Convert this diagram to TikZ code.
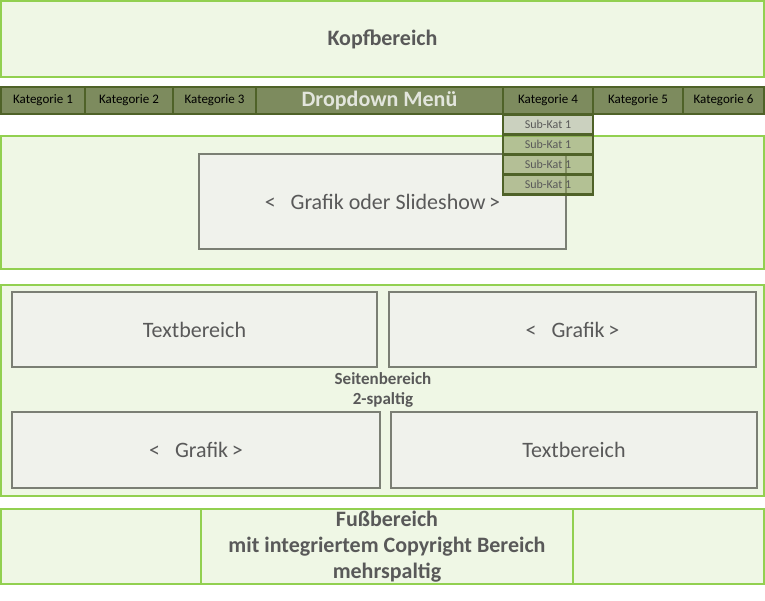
\documentclass[tikz,border=0pt]{standalone}
\usepackage{fontspec}
\setmainfont{Carlito}
\usepackage{xcolor}
\definecolor{hellgruen}{HTML}{EFF7E5}
\definecolor{rahmengruen}{HTML}{92D050}
\definecolor{navfill}{HTML}{7D8B5E}
\definecolor{navrand}{HTML}{4F6228}
\definecolor{subfill}{HTML}{8C9E5E}
\definecolor{graufill}{HTML}{F0F2EC}
\definecolor{graurand}{HTML}{7B7F74}
\definecolor{schrift}{HTML}{595959}

\begin{document}
\begin{tikzpicture}[x=1pt,y=-1pt,
        bereich/.style={draw=rahmengruen,fill=hellgruen,line width=2.5pt,inner sep=0pt,text=schrift},
        navbox/.style={draw=navrand,fill=navfill,line width=2.5pt,inner sep=0pt,minimum height=27pt,font=\fontsize{13}{15}\selectfont},
        subbox/.style={draw=navrand,fill=subfill,fill opacity=0.6,text opacity=1,line width=2.5pt,inner sep=0pt,minimum width=90pt,minimum height=20pt,text=schrift,font=\fontsize{12}{14}\selectfont},
        inhalt/.style={draw=graurand,fill=graufill,line width=2pt,inner sep=0pt,text=schrift,font=\fontsize{22}{26}\selectfont}]
        \useasboundingbox (0,0) rectangle (765,600);
        % Kopf
        \node[bereich,minimum width=763pt,minimum height=76pt,font=\bfseries\fontsize{22}{26}\selectfont](kopf) at (382.5,39) {Kopfbereich};
        % Navigation
        \node[navbox,minimum width=84pt](kat1) at (43,100.5) {Kategorie 1};
        \node[navbox,minimum width=88pt](kat2) at (129,100.5) {Kategorie 2};
        \node[navbox,minimum width=83pt](kat3) at (214.5,100.5) {Kategorie 3};
        \node[navbox,minimum width=247pt,text=white!78!navfill,font=\bfseries\fontsize{22}{26}\selectfont](drop) at (379.5,100.5) {Dropdown Menü};
        \node[navbox,minimum width=90pt](kat4) at (548,100.5) {Kategorie 4};
        \node[navbox,minimum width=90pt](kat5) at (638,100.5) {Kategorie 5};
        \node[navbox,minimum width=81pt](kat6) at (723.5,100.5) {Kategorie 6};
        % Slideshow
        \node[bereich,minimum width=763pt,minimum height=133pt](slidebereich) at (382.5,202.5) {};
        \node[inhalt,minimum width=367pt,minimum height=95pt](slide) at (382.5,201.5) {<\ \ \ Grafik oder Slideshow\,>};
        % Untermenue
        \node[subbox,fill=white!60!navfill,fill opacity=1](sub1) at (548,124.5) {Sub-Kat 1};
        \foreach \i in {2,3,4}
            \node[subbox](sub\i) at (548,104.5+20*\i) {Sub-Kat 1};
        % Seitenbereich
        \node[bereich,minimum width=763pt,minimum height=211pt](seite) at (382.5,390.5) {};
        \node[inhalt,minimum width=365pt,minimum height=75pt](text1) at (194.5,329.5) {Textbereich};
        \node[inhalt,minimum width=367pt,minimum height=75pt](grafik1) at (572.5,329.5) {<\ \ \ Grafik\,>};
        \node[inhalt,minimum width=368pt,minimum height=76pt](grafik2) at (196,450) {<\ \ \ Grafik\,>};
        \node[inhalt,minimum width=366pt,minimum height=76pt](text2) at (574,450) {Textbereich};
        \node[text=schrift,align=center,font=\bfseries\fontsize{17}{20}\selectfont](seitenlabel) at (383,390) {Seitenbereich\\2-spaltig};
        % Fuss
        \node[bereich,minimum width=200pt,minimum height=75pt](fuss1) at (101,546.5) {};
        \node[bereich,minimum width=372pt,minimum height=75pt,align=center,font=\bfseries\fontsize{22}{26}\selectfont](fuss2) at (387,546.5) {Fußbereich\\mit integriertem Copyright Bereich\\mehrspaltig};
        \node[bereich,minimum width=191pt,minimum height=75pt](fuss3) at (668.5,546.5) {};
\end{tikzpicture}
\end{document}
